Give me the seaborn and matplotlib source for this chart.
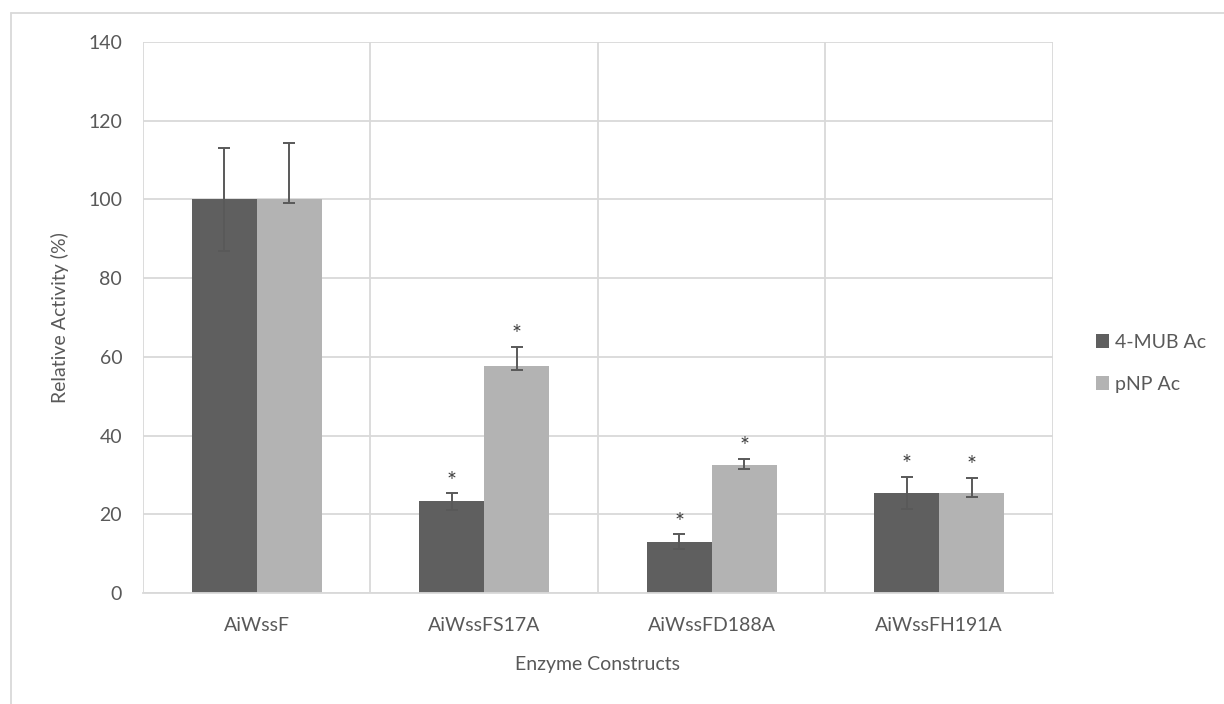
import numpy as np
import pandas as pd
import seaborn as sns
from matplotlib import pyplot as plt
from matplotlib.lines import Line2D
from matplotlib.patches import Patch

constructs = ["AiWssF", "AiWssFS17A", "AiWssFD188A", "AiWssFH191A"]
substrates = ["4-MUB Ac", "pNP Ac"]

mub_values = [100, 23.3, 13.0, 25.3]
pnp_values = [100, 57.7, 32.5, 25.3]

# asymmetric error bars (lower, upper)
mub_err_lo = [13.1, 2.2, 1.8, 4.0]
mub_err_hi = [13.0, 2.1, 1.9, 4.2]
pnp_err_lo = [1.0, 1.1, 0.9, 0.9]
pnp_err_hi = [14.4, 4.9, 1.6, 4.0]

# significance stars
mub_star = [False, True, True, True]
pnp_star = [False, True, True, True]

dark = "#5f5f5f"
light = "#b3b3b3"
grid_c = "#d9d9d9"
text_c = "#595959"

df = pd.DataFrame({
    "Construct": constructs * 2,
    "Substrate": [substrates[0]] * 4 + [substrates[1]] * 4,
    "Activity": mub_values + pnp_values,
})

sns.set_style("white")
plt.rcParams['font.family'] = ['Lato', 'DejaVu Sans']

fig = plt.figure(figsize=(12.24, 7.04), dpi=100)
ax = fig.add_axes([0.1168, 0.1577, 0.7435, 0.7826])

group_w = 0.571
sns.barplot(data=df, x="Construct", y="Activity", hue="Substrate",
            palette=[dark, light], width=group_w, errorbar=None,
            saturation=1, ax=ax, legend=False, zorder=2, linewidth=0)

half = group_w / 4
x = np.arange(len(constructs))
series = [
    (x - half, mub_values, mub_err_lo, mub_err_hi, mub_star),
    (x + half, pnp_values, pnp_err_lo, pnp_err_hi, pnp_star),
]
for xs, vals, lo, hi, star in series:
    ax.errorbar(xs, vals, yerr=[lo, hi], fmt="none", ecolor=text_c,
                elinewidth=1.4, capsize=4.5, capthick=1.4, zorder=3)
    for xi, v, h, s in zip(xs, vals, hi, star):
        if s:
            ax.annotate("*", (xi, v + h), xytext=(0, 1), textcoords="offset points",
                        ha="center", va="bottom", fontsize=17, color="#404040")

ax.set_xlim(-0.5, 3.5)
ax.set_ylim(0, 140)
ax.set_yticks(range(0, 141, 20))
ax.set_xticks(range(4), constructs)
ax.set_axisbelow(True)
ax.grid(True, axis="both", color=grid_c, linewidth=1.3)
ax.set_xticks([-0.5, 0.5, 1.5, 2.5, 3.5], minor=True)
ax.xaxis.grid(False, which="major")
ax.xaxis.grid(True, which="minor", color=grid_c, linewidth=1.3)
for sp in ax.spines.values():
    sp.set_visible(False)
ax.spines["bottom"].set_visible(True)
ax.spines["bottom"].set_color(grid_c)
ax.spines["bottom"].set_linewidth(1.3)

ax.tick_params(axis="both", which="both", length=0, labelsize=14, colors=text_c)
ax.tick_params(axis="x", pad=17)
ax.tick_params(axis="y", pad=15)
ax.set_xlabel("Enzyme Constructs", fontsize=14, color=text_c, labelpad=16)
ax.set_ylabel("Relative Activity (%)", fontsize=14, color=text_c, labelpad=14)

handles = [Patch(facecolor=dark, edgecolor="none"), Patch(facecolor=light, edgecolor="none")]
ax.legend(handles, substrates, loc="center left", bbox_to_anchor=(1.047, 0.417),
          frameon=False, handlelength=0.7, handleheight=0.7, handletextpad=0.3,
          labelspacing=1.3, borderpad=0, borderaxespad=0, fontsize=14,
          labelcolor=text_c)

# outer chart border
fig.add_artist(Line2D([0.009, 0.009], [-0.1, 0.9815], color=grid_c, linewidth=1.3))
fig.add_artist(Line2D([0.009, 1.1], [0.9815, 0.9815], color=grid_c, linewidth=1.3))

plt.savefig("out.png", dpi=100)
